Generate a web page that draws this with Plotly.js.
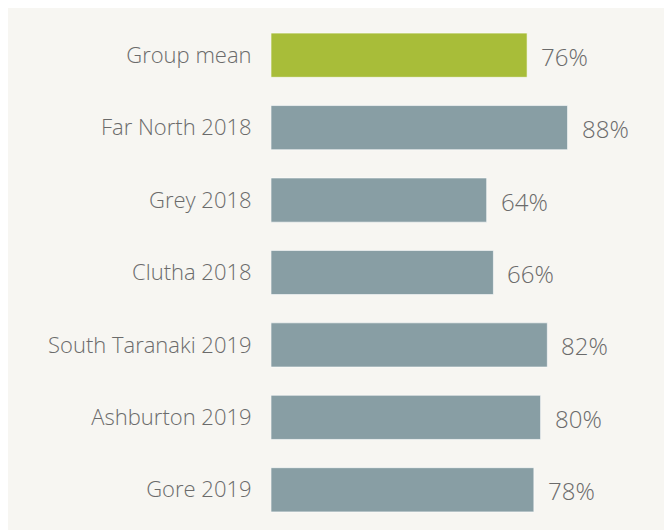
<!DOCTYPE html>
<html>
<head>
<meta charset="utf-8">
<script src="https://cdn.plot.ly/plotly-3.0.1.min.js"></script>
<style>
html,body{margin:0;padding:0;background:#ffffff;}
#chart{position:absolute;left:8px;top:8px;width:656px;height:522px;}
</style>
</head>
<body>
<div id="chart"></div>
<script>
const categories = ["Group mean","Far North 2018","Grey 2018","Clutha 2018","South Taranaki 2019","Ashburton 2019","Gore 2019"];
const values = [76, 88, 64, 66, 82, 80, 78];
const valueLabels = ["76%","88%","64%","66%","82%","80%","78%"];
const barColors = ["#a8bd39","#889ea4","#889ea4","#889ea4","#889ea4","#889ea4","#889ea4"];

const fontFam = "'Open Sans', sans-serif";
const textCol = "#6b6b6b";

const trace = {
  type: "bar",
  orientation: "h",
  y: categories,
  x: values,
  marker: {color: barColors, line: {color: "rgba(255,255,255,0.6)", width: 1}},
  width: 0.61,
  hoverinfo: "none"
};

const annotations = categories.map((c, i) => ({
  x: values[i], y: c, xref: "x", yref: "y",
  text: valueLabels[i], showarrow: false,
  xanchor: "left", xshift: 12, yshift: -1,
  font: {family: fontFam, size: 24, color: textCol, weight: 300}
}));

const layout = {
  width: 656, height: 522,
  margin: {l: 263, r: 56, t: 11, b: 4, pad: 0},
  paper_bgcolor: "#f7f6f2",
  plot_bgcolor: "#f7f6f2",
  showlegend: false,
  xaxis: {range: [0, 100], visible: false, fixedrange: true},
  yaxis: {
    autorange: "reversed",
    showgrid: false, zeroline: false, showline: false,
    ticks: "outside", ticklen: 14, tickcolor: "rgba(0,0,0,0)",
    tickfont: {family: fontFam, size: 22, color: textCol, weight: 300},
    automargin: false,
    fixedrange: true
  },
  annotations: annotations,
  font: {family: fontFam, color: textCol}
};

Plotly.newPlot("chart", [trace], layout, {displayModeBar: false, staticPlot: true});
</script>
</body>
</html>
